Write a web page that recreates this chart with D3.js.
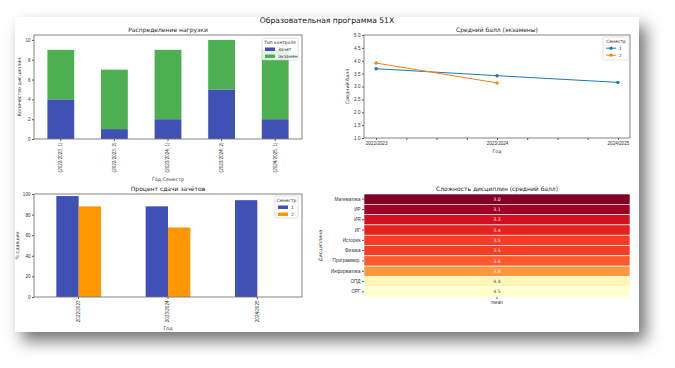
<!DOCTYPE html>
<html>
<head>
<meta charset="utf-8">
<script src="https://cdn.jsdelivr.net/npm/d3@7"></script>
<style>
  body { margin: 0; background: #fff; }
  svg { display: block; font-family: "DejaVu Sans", sans-serif; }
  .axis path, .axis line { stroke: #555; }
  .axis text { fill: #333; font-size: 4.6px; }
</style>
</head>
<body>
<svg width="675" height="368"></svg>
<script>
// ---- data ----
const loadCats = ["(2022/2023, 1)", "(2022/2023, 2)", "(2023/2024, 1)", "(2023/2024, 2)", "(2024/2025, 1)"];
const zachet = [4, 1, 2, 5, 2];
const exam = [5, 6, 7, 5, 7];

const years = ["2022/2023", "2023/2024", "2024/2025"];
const avgSem1 = [3.69, 3.42, 3.16];
const avgSem2 = [3.91, 3.14];

const passSem1 = [98, 88, 94];
const passSem2 = [88, 67.5, null];

const disciplines = ["Математика", "ИР", "ИЯ", "ИГ", "История", "Физика", "Программир.", "Информатика", "ОПД", "ОРГ"];
const difficulty = [3.0, 3.1, 3.3, 3.4, 3.5, 3.5, 3.6, 3.8, 4.4, 4.5];

const blue = "#3f51b5", green = "#4caf50", orange = "#ff9800";
const c1 = "#1f77b4", c2 = "#ff7f0e";
// matplotlib-style YlOrRd (linear between the 9 brewer colours), reversed below
const ylOrRd = ["#ffffcc", "#ffeda0", "#fed976", "#feb24c", "#fd8d3c", "#fc4e2a", "#e31a1c", "#bd0026", "#800026"];

const svg = d3.select("svg");

// shadow + figure background
const defs = svg.append("defs");
const f = defs.append("filter").attr("id", "shadow")
    .attr("x", "-10%").attr("y", "-10%").attr("width", "125%").attr("height", "130%");
f.append("feDropShadow").attr("dx", 7).attr("dy", 9).attr("stdDeviation", 8)
    .attr("flood-color", "#000").attr("flood-opacity", 0.55);
svg.append("rect").attr("x", 15).attr("y", 17).attr("width", 624).attr("height", 315)
    .attr("fill", "#fff").attr("filter", "url(#shadow)");

svg.append("text").attr("x", 327).attr("y", 23).attr("text-anchor", "middle")
    .attr("font-size", 7.6).attr("fill", "#111").text("Образовательная программа 51X");

function frame(g, x0, y0, x1, y1) {
    g.append("rect").attr("x", x0).attr("y", y0).attr("width", x1 - x0).attr("height", y1 - y0)
        .attr("fill", "none").attr("stroke", "#777").attr("stroke-width", 0.9);
}
function title(g, x, y, t) {
    g.append("text").attr("x", x).attr("y", y).attr("text-anchor", "middle")
        .attr("font-size", 6).attr("fill", "#222").text(t);
}
function yLabel(g, x, y, t) {
    g.append("text").attr("transform", `translate(${x},${y}) rotate(-90)`)
        .attr("text-anchor", "middle").attr("font-size", 4.8).attr("fill", "#333").text(t);
}
function xLabel(g, x, y, t) {
    g.append("text").attr("x", x).attr("y", y).attr("text-anchor", "middle")
        .attr("font-size", 4.8).attr("fill", "#333").text(t);
}
function legend(g, x, y, w, h, ttl, items, kind) {
    const lg = g.append("g").attr("transform", `translate(${x},${y})`);
    lg.append("rect").attr("width", w).attr("height", h).attr("rx", 1.5)
        .attr("fill", "#fff").attr("fill-opacity", 0.85).attr("stroke", "#ccc").attr("stroke-width", 0.6);
    lg.append("text").attr("x", w / 2).attr("y", 6).attr("text-anchor", "middle")
        .attr("font-size", 4.4).attr("fill", "#333").text(ttl);
    items.forEach((it, i) => {
        const yy = 12 + i * 7;
        if (kind === "patch") {
            lg.append("rect").attr("x", 3).attr("y", yy - 2.5).attr("width", 10).attr("height", 3.5).attr("fill", it.c);
        } else {
            lg.append("line").attr("x1", 3).attr("x2", 13).attr("y1", yy - 0.8).attr("y2", yy - 0.8)
                .attr("stroke", it.c).attr("stroke-width", 1);
            lg.append("circle").attr("cx", 8).attr("cy", yy - 0.8).attr("r", 1.6).attr("fill", it.c);
        }
        lg.append("text").attr("x", 16).attr("y", yy + 1).attr("font-size", 4.4).attr("fill", "#333").text(it.t);
    });
}

// ---- A: stacked bars ----
{
    const x0 = 34, x1 = 302, y0 = 35, y1 = 139;
    const g = svg.append("g");
    const x = d3.scaleBand().domain(loadCats).range([x0, x1]).paddingInner(0.5).paddingOuter(0.25);
    const y = d3.scaleLinear().domain([0, 10.5]).range([y1, y0]);
    const rows = loadCats.map((c, i) => ({ c, z: zachet[i], e: exam[i] }));
    g.selectAll(".bz").data(rows).join("rect")
        .attr("x", d => x(d.c)).attr("width", x.bandwidth())
        .attr("y", d => y(d.z)).attr("height", d => y(0) - y(d.z)).attr("fill", blue);
    g.selectAll(".be").data(rows).join("rect")
        .attr("x", d => x(d.c)).attr("width", x.bandwidth())
        .attr("y", d => y(d.z + d.e)).attr("height", d => y(d.z) - y(d.z + d.e)).attr("fill", green);
    g.append("g").attr("class", "axis").attr("transform", `translate(${x0},0)`)
        .call(d3.axisLeft(y).tickValues([0, 2, 4, 6, 8, 10]).tickSize(2).tickPadding(1.5).tickSizeOuter(0))
        .select(".domain").remove();
    const xa = g.append("g").attr("class", "axis").attr("transform", `translate(0,${y1})`)
        .call(d3.axisBottom(x).tickSize(2).tickPadding(1.5).tickSizeOuter(0));
    xa.select(".domain").remove();
    xa.selectAll("text").attr("transform", "rotate(-90)").attr("text-anchor", "end")
        .attr("dy", "0.32em").attr("x", -3.5).attr("y", 0);
    frame(g, x0, y0, x1, y1);
    title(g, (x0 + x1) / 2, 32, "Распределение нагрузки");
    yLabel(g, 21, (y0 + y1) / 2, "Количество дисциплин");
    xLabel(g, (x0 + x1) / 2, 181, "Год,Семестр");
    legend(g, 262, 38, 36, 22, "Тип контроля", [{ t: "Зачет", c: blue }, { t: "Экзамен", c: green }], "patch");
}

// ---- B: lines ----
{
    const x0 = 364, x1 = 630, y0 = 35, y1 = 138;
    const g = svg.append("g");
    const x = d3.scaleLinear().domain([-0.1, 2.1]).range([x0, x1]);
    const y = d3.scaleLinear().domain([1, 5]).range([y1, y0]);
    g.append("g").attr("class", "axis").attr("transform", `translate(${x0},0)`)
        .call(d3.axisLeft(y).tickValues(d3.range(1, 5.01, 0.5)).tickFormat(d3.format(".1f"))
            .tickSize(2).tickPadding(1.5).tickSizeOuter(0))
        .select(".domain").remove();
    g.append("g").attr("class", "axis").attr("transform", `translate(0,${y1})`)
        .call(d3.axisBottom(x).tickValues(d3.range(0, 2.01, 0.25))
            .tickFormat(d => Number.isInteger(d) ? years[d] : "")
            .tickSize(2).tickPadding(1.5).tickSizeOuter(0))
        .select(".domain").remove();
    const line = d3.line().x((d, i) => x(i)).y(d => y(d));
    [[avgSem1, c1], [avgSem2, c2]].forEach(([s, c]) => {
        g.append("path").datum(s).attr("d", line).attr("fill", "none").attr("stroke", c).attr("stroke-width", 1);
        g.selectAll(null).data(s).join("circle").attr("cx", (d, i) => x(i)).attr("cy", d => y(d))
            .attr("r", 1.7).attr("fill", c);
    });
    frame(g, x0, y0, x1, y1);
    title(g, (x0 + x1) / 2, 32, "Средний балл (экзамены)");
    yLabel(g, 349, (y0 + y1) / 2, "Средний балл");
    xLabel(g, (x0 + x1) / 2, 153, "Год");
    legend(g, 603, 37, 26, 23, "Семестр", [{ t: "1", c: c1 }, { t: "2", c: c2 }], "line");
}

// ---- C: grouped bars ----
{
    const x0 = 34, x1 = 302, y0 = 194, y1 = 297;
    const g = svg.append("g");
    const x = d3.scaleBand().domain(years).range([x0, x1]).paddingInner(0.5).paddingOuter(0.25);
    const xs = d3.scaleBand().domain(["1", "2"]).range([0, x.bandwidth()]);
    const y = d3.scaleLinear().domain([0, 100]).range([y1, y0]);
    const rows = [];
    years.forEach((yr, i) => {
        if (passSem1[i] != null) rows.push({ yr, s: "1", v: passSem1[i], c: blue });
        if (passSem2[i] != null) rows.push({ yr, s: "2", v: passSem2[i], c: orange });
    });
    g.selectAll(".bar").data(rows).join("rect")
        .attr("x", d => x(d.yr) + xs(d.s)).attr("width", xs.bandwidth())
        .attr("y", d => y(d.v)).attr("height", d => y(0) - y(d.v)).attr("fill", d => d.c);
    g.append("g").attr("class", "axis").attr("transform", `translate(${x0},0)`)
        .call(d3.axisLeft(y).tickValues([0, 20, 40, 60, 80, 100]).tickSize(2).tickPadding(1.5).tickSizeOuter(0))
        .select(".domain").remove();
    const xa = g.append("g").attr("class", "axis").attr("transform", `translate(0,${y1})`)
        .call(d3.axisBottom(x).tickSize(2).tickPadding(1.5).tickSizeOuter(0));
    xa.select(".domain").remove();
    xa.selectAll("text").attr("transform", "rotate(-90)").attr("text-anchor", "end")
        .attr("dy", "0.32em").attr("x", -3.5).attr("y", 0);
    frame(g, x0, y0, x1, y1);
    title(g, (x0 + x1) / 2, 191, "Процент сдачи зачётов");
    yLabel(g, 19, (y0 + y1) / 2, "% сдавших");
    xLabel(g, (x0 + x1) / 2, 330, "Год");
    legend(g, 275, 196, 23, 22, "Семестр", [{ t: "1", c: blue }, { t: "2", c: orange }], "patch");
}

// ---- D: heatmap ----
{
    const x0 = 364, x1 = 630, y0 = 194, y1 = 297;
    const g = svg.append("g");
    const y = d3.scaleBand().domain(disciplines).range([y0, y1]);
    const x = d3.scaleBand().domain(["mean"]).range([x0, x1]);
    const ext = d3.extent(difficulty);
    const col = d3.scaleLinear()
        .domain(d3.range(ylOrRd.length).map(i => ext[1] - (ext[1] - ext[0]) * i / (ylOrRd.length - 1)))
        .range(ylOrRd).interpolate(d3.interpolateRgb);
    const rows = disciplines.map((d, i) => ({ d, v: difficulty[i] }));
    g.selectAll(".cell").data(rows).join("rect")
        .attr("x", x("mean")).attr("width", x.bandwidth())
        .attr("y", d => y(d.d)).attr("height", y.bandwidth())
        .attr("fill", d => col(d.v)).attr("stroke", "#fff").attr("stroke-width", 0.6);
    g.selectAll(".lbl").data(rows).join("text")
        .attr("x", x("mean") + x.bandwidth() / 2).attr("y", d => y(d.d) + y.bandwidth() / 2)
        .attr("dy", "0.35em").attr("text-anchor", "middle").attr("font-size", 4.6)
        .attr("fill", d => d.v > 4 ? "#555" : "#f4f4f4").text(d => d.v.toFixed(1));
    g.append("g").attr("class", "axis").attr("transform", `translate(${x0},0)`)
        .call(d3.axisLeft(y).tickSize(2).tickPadding(1.5).tickSizeOuter(0))
        .select(".domain").remove();
    g.append("g").attr("class", "axis").attr("transform", `translate(0,${y1})`)
        .call(d3.axisBottom(x).tickSize(2).tickPadding(1.5).tickSizeOuter(0))
        .select(".domain").remove();
    title(g, (x0 + x1) / 2, 191, "Сложность дисциплин (средний балл)");
    yLabel(g, 322, (y0 + y1) / 2, "Дисциплина");
}
</script>
</body>
</html>
